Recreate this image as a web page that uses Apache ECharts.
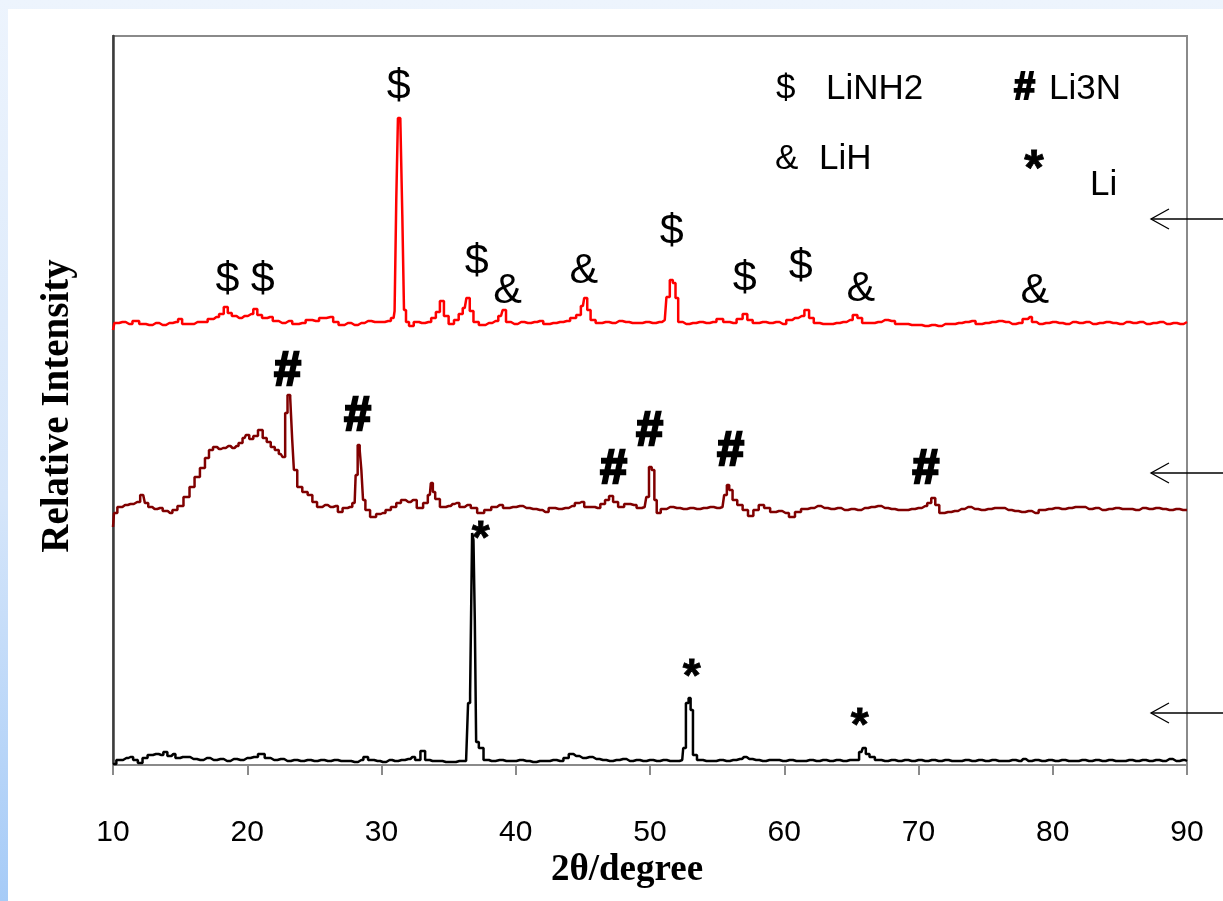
<!DOCTYPE html>
<html>
<head>
<meta charset="utf-8">
<script src="https://cdn.jsdelivr.net/npm/echarts@6/dist/echarts.min.js"></script>
<style>
  html, body { margin: 0; padding: 0; width: 1223px; height: 901px; overflow: hidden; }
  body { background: linear-gradient(to bottom, #edf4fd 0%, #d6e6fa 55%, #a6cbf7 100%); position: relative; }
  #sheet { position: absolute; left: 8px; top: 9px; right: 0; bottom: 0; background: #ffffff; }
  #chart { position: absolute; left: 0; top: 0; width: 1223px; height: 901px; }
</style>
</head>
<body>
<div id="sheet"></div>
<div id="chart"></div>
<script>
// XRD patterns, 2-theta (degree) vs. relative intensity (arbitrary units, stacked)
const xTicks = [10, 20, 30, 40, 50, 60, 70, 80, 90];

// Top pattern: LiNH2 + LiH
const patternTop = [
  [10.0,435],[10.2,442],[10.7,443],[11.2,441],[11.7,444],[12.2,441],[12.7,440],[13.2,442],[13.7,440],[14.2,442],
  [14.7,443],[15.0,446],[15.3,441],[15.8,441],[16.3,443],[16.8,443],[17.3,446],[17.7,448],[18.1,451],[18.4,458],
  [18.7,452],[19.0,449],[19.4,447],[19.8,449],[20.3,451],[20.6,456],[20.9,450],[21.3,447],[21.7,448],[22.1,444],
  [22.6,442],[23.1,444],[23.6,441],[24.1,442],[24.6,445],[25.1,444],[25.6,447],[26.2,448],[26.6,443],[27.0,440],
  [27.5,442],[28.0,440],[28.5,442],[29.0,444],[29.5,443],[30.0,443],[30.5,444],[30.9,447],[31.05,454],[31.15,565],
  [31.3,647],[31.5,647],[31.6,550],[31.75,455],[31.9,443],[32.2,439],[32.6,443],[33.0,442],[33.5,443],[33.9,447],
  [34.2,453],[34.5,464],[34.8,449],[35.2,441],[35.6,445],[35.9,451],[36.2,457],[36.45,467],[36.7,454],[37.0,443],
  [37.5,440],[38.0,442],[38.5,444],[38.9,449],[39.15,455],[39.4,443],[39.9,441],[40.4,443],[40.9,442],[41.4,443],
  [41.8,444],[42.3,441],[42.8,442],[43.3,443],[43.8,444],[44.3,447],[44.7,450],[45.0,459],[45.2,467],[45.45,455],
  [45.7,445],[46.2,442],[46.7,443],[47.2,442],[47.7,444],[48.2,443],[48.7,442],[49.2,442],[49.7,443],[50.2,442],
  [50.7,443],[51.1,445],[51.35,468],[51.6,485],[51.8,482],[52.0,467],[52.2,443],[52.7,441],[53.2,442],[53.7,443],
  [54.2,442],[54.7,443],[55.2,446],[55.7,443],[56.2,442],[56.7,446],[57.1,451],[57.4,445],[57.9,442],[58.4,443],
  [58.9,442],[59.4,443],[59.9,441],[60.4,445],[60.8,447],[61.3,449],[61.7,455],[62.0,447],[62.4,442],[62.9,441],
  [63.4,441],[63.9,442],[64.4,443],[64.9,445],[65.3,450],[65.6,447],[66.0,442],[66.5,442],[67.0,443],[67.5,445],
  [68.0,444],[68.5,441],[69.0,441],[69.5,440],[70.0,440],[70.5,439],[71.0,440],[71.5,439],[72.0,441],[72.5,441],
  [73.0,442],[73.5,443],[74.0,444],[74.5,441],[75.0,442],[75.5,443],[76.0,444],[76.5,443],[77.0,441],[77.5,442],
  [78.0,446],[78.3,448],[78.6,443],[79.0,441],[79.5,442],[80.0,443],[80.5,442],[81.0,441],[81.5,443],[82.0,442],
  [82.5,443],[83.0,441],[83.5,442],[84.0,443],[84.5,442],[85.0,441],[85.5,443],[86.0,442],[86.5,443],[87.0,441],
  [87.5,442],[88.0,443],[88.5,441],[89.0,442],[89.5,441],[90.0,443]
];

// Middle pattern: Li3N
const patternMiddle = [
  [10.0,238],[10.15,252],[10.5,258],[10.9,260],[11.3,261],[11.8,263],[12.25,270],[12.5,262],[12.75,258],[13.1,256],
  [13.5,257],[13.9,254],[14.25,252],[14.6,255],[15.0,259],[15.5,268],[15.9,278],[16.25,288],[16.7,297],[17.0,307],
  [17.3,315],[17.6,318],[17.9,316],[18.2,317],[18.6,319],[18.9,317],[19.2,319],[19.5,322],[19.8,327],[20.0,330],
  [20.3,326],[20.6,329],[21.0,335],[21.3,327],[21.6,323],[21.9,318],[22.2,315],[22.5,311],[22.75,308],[22.9,352],
  [23.1,370],[23.3,367],[23.4,325],[23.55,295],[23.9,278],[24.3,273],[24.7,270],[25.0,263],[25.4,258],[25.8,260],
  [26.2,258],[26.6,259],[26.9,253],[27.3,257],[27.65,258],[28.0,262],[28.15,290],[28.3,320],[28.45,315],[28.55,295],
  [28.7,265],[28.9,255],[29.4,248],[29.8,251],[30.1,252],[30.5,255],[30.9,258],[31.3,262],[31.6,265],[32.0,263],
  [32.35,265],[32.9,257],[33.3,262],[33.6,270],[33.75,282],[33.9,273],[34.1,266],[34.6,258],[35.0,259],[35.3,261],
  [35.6,262],[36.0,258],[36.4,260],[36.9,257],[37.35,252],[37.95,255],[38.4,258],[38.8,260],[39.3,257],[39.8,258],
  [40.3,259],[40.8,257],[41.3,256],[41.8,255],[42.2,253],[42.7,257],[43.2,256],[43.7,257],[44.2,259],[44.6,262],
  [44.9,263],[45.3,258],[45.7,258],[46.1,257],[46.5,261],[46.8,265],[47.1,269],[47.4,263],[47.85,258],[48.3,261],
  [48.8,260],[49.2,257],[49.6,258],[49.85,268],[50.0,298],[50.25,295],[50.4,265],[50.6,252],[51.0,256],[51.5,258],
  [52.0,257],[52.5,256],[53.0,257],[53.5,256],[54.0,257],[54.5,258],[55.0,257],[55.4,258],[55.65,270],[55.8,280],
  [56.0,275],[56.3,265],[56.7,260],[57.1,255],[57.5,249],[57.9,255],[58.3,260],[58.7,257],[59.2,253],[59.6,254],
  [60.1,252],[60.6,248],[61.0,253],[61.5,256],[62.0,257],[62.5,259],[63.0,257],[63.5,256],[64.0,257],[64.5,255],
  [65.0,256],[65.5,255],[66.0,257],[66.5,258],[67.0,259],[67.5,257],[68.0,256],[68.5,255],[69.0,255],[69.5,256],
  [70.0,257],[70.5,259],[70.8,262],[71.1,267],[71.4,260],[71.7,252],[72.2,253],[72.7,254],[73.2,256],[73.7,258],
  [74.2,256],[74.7,255],[75.2,256],[75.7,257],[76.2,257],[76.7,255],[77.2,254],[77.7,253],[78.2,254],[78.7,252],
  [79.2,255],[79.7,256],[80.2,257],[80.7,256],[81.2,257],[81.7,258],[82.2,258],[82.7,256],[83.2,257],[83.7,255],
  [84.2,256],[84.7,257],[85.2,256],[85.7,256],[86.2,255],[86.7,257],[87.2,256],[87.7,257],[88.2,256],[88.7,255],
  [89.2,256],[89.7,255],[90.0,255]
];

// Bottom pattern: Li
const patternBottom = [
  [10.0,1],[10.5,5],[11.0,7],[11.3,8],[11.7,5],[12.0,2],[12.4,7],[12.75,10],[13.2,11],[13.6,10],
  [13.9,13],[14.2,9],[14.5,11],[14.8,7],[15.2,8],[15.5,8],[16.0,6],[16.5,5],[17.0,7],[17.5,5],
  [18.0,6],[18.5,4],[19.0,6],[19.5,5],[20.0,7],[20.5,8],[21.1,11],[21.5,7],[22.0,5],[22.5,6],
  [23.0,4],[23.5,5],[24.0,4],[24.5,5],[25.0,4],[25.5,5],[26.0,4],[26.5,5],[27.0,4],[27.5,4],
  [28.0,3],[28.5,5],[28.8,8],[29.2,5],[29.7,4],[30.1,3],[30.6,5],[31.0,4],[31.5,5],[32.0,6],
  [32.3,8],[32.7,5],[33.1,14],[33.4,5],[33.8,4],[34.3,4],[34.8,3],[35.3,3],[35.8,4],[36.3,4],
  [36.4,4],[36.5,62],[36.7,72],[36.8,232],[36.9,225],[37.0,145],[37.1,23],[37.4,17],[37.8,5],[38.2,4],
  [38.8,5],[39.3,4],[39.8,4],[40.3,5],[40.8,4],[41.3,3],[41.8,4],[42.3,4],[42.8,5],[43.3,4],
  [43.8,7],[44.1,11],[44.5,9],[45.0,7],[45.5,8],[46.0,6],[46.5,5],[47.0,4],[47.5,5],[48.0,6],
  [48.5,4],[49.0,5],[49.5,4],[50.0,5],[50.5,4],[51.0,5],[51.5,4],[52.0,4],[52.4,5],[52.55,17],
  [52.8,62],[52.95,67],[53.1,55],[53.3,10],[53.7,5],[54.2,4],[54.7,4],[55.2,5],[55.7,4],[56.2,5],
  [56.7,6],[57.0,8],[57.4,6],[57.9,5],[58.4,4],[58.9,5],[59.4,5],[59.9,4],[60.4,5],[60.9,4],
  [61.4,4],[61.9,5],[62.4,4],[62.9,5],[63.4,4],[63.9,5],[64.4,4],[64.9,5],[65.4,5],[65.75,13],
  [65.95,17],[66.2,11],[66.5,8],[67.0,5],[67.5,4],[68.0,5],[68.5,4],[69.0,5],[69.5,4],[70.0,5],
  [70.5,4],[71.0,5],[71.5,4],[72.0,5],[72.5,4],[73.0,4],[73.5,5],[74.0,4],[74.5,5],[75.0,4],
  [75.5,5],[76.0,4],[76.5,4],[77.0,5],[77.5,4],[77.8,6],[78.2,4],[78.7,5],[79.2,4],[79.7,5],
  [80.2,4],[80.7,5],[81.2,4],[81.7,4],[82.2,5],[82.7,4],[83.2,5],[83.7,4],[84.2,5],[84.7,4],
  [85.2,4],[85.7,5],[86.2,4],[86.7,5],[87.2,4],[87.7,5],[88.2,4],[88.7,6],[89.2,4],[89.7,5],[90.0,4]
];

// Phase markers above the reflections: [2theta, height, symbol]
const marksTop = [
  [31.31, 677, '$'], [18.57, 484, '$'], [21.18, 484, '$'], [37.12, 502, '$'],
  [39.43, 473, '&'], [45.1, 493, '&'], [51.65, 532, '$'], [57.1, 485, '$'],
  [61.27, 497, '$'], [65.74, 475, '&'], [78.7, 473, '&']
];
const marksMiddle = [
  [23.04, 393, '#'], [28.26, 348, '#'], [47.33, 295, '#'],
  [50.0, 333, '#'], [56.05, 313, '#'], [70.58, 295, '#']
];
const marksBottom = [
  [37.42, 224, '*'], [53.15, 86, '*'], [65.66, 37, '*']
];

const SANS = 'Liberation Sans, Arial, sans-serif';
const SERIF = 'Liberation Serif, Times New Roman, serif';

function traceSeries(data, color) {
  return {
    type: 'line', data: data, step: 'middle', symbol: 'none', silent: true,
    lineStyle: { color: color, width: 2.5 }, clip: false, z: 3
  };
}
// heavy: extra outline stroke to thicken the glyph
function markSeries(data, size, bold, heavy) {
  return {
    type: 'scatter', data: data, symbolSize: 1, silent: true, z: 5,
    itemStyle: { color: 'rgba(0,0,0,0)' },
    label: {
      show: true, position: [0, 0], align: 'center', verticalAlign: 'middle',
      formatter: p => p.data[2], opacity: 1,
      color: '#000000', textBorderWidth: heavy || 0, textBorderColor: '#000000',
      fontFamily: SANS, fontSize: size, fontWeight: bold ? 'bold' : 'normal'
    }
  };
}

const chart = echarts.init(document.getElementById('chart'), null, { renderer: 'canvas' });

// legend key, axis titles and the pointer arrows at the right edge
const plainText = (x, y, text, font, align, rotation, heavy) => ({
  type: 'text', x: x, y: y, rotation: rotation || 0,
  style: { text: text, fill: '#000', font: font,
           stroke: heavy ? '#000' : null, lineWidth: heavy || 0,
           textVerticalAlign: 'middle', textAlign: align || 'left' }
});
const legendText = (x, y, text, bold, size, align, heavy) =>
  plainText(x, y, text, (bold ? 'bold ' : '') + (size || 35) + 'px ' + SANS, align, 0, heavy);
const arrow = y => ({
  type: 'group', children: [
    { type: 'line', shape: { x1: 1151, y1: y, x2: 1223, y2: y }, style: { stroke: '#000', lineWidth: 1.3 } },
    { type: 'polyline', shape: { points: [[1169, y - 10], [1151, y], [1169, y + 10]] },
      style: { stroke: '#000', lineWidth: 1.3, fill: null } }
  ]
});

chart.setOption({
  animation: false,
  backgroundColor: 'transparent',
  grid: { left: 113, right: 36, top: 36, bottom: 136, show: true, borderColor: '#8a8a8a', borderWidth: 2 },
  xAxis: {
    type: 'value', min: 10, max: 90, interval: 10,
    axisLine: { show: true, onZero: false, lineStyle: { color: '#8a8a8a', width: 2 } },
    axisTick: { show: true, length: 10, lineStyle: { color: '#8a8a8a', width: 2 } },
    axisLabel: { margin: 53, fontFamily: SANS, fontSize: 30, color: '#000',
                 formatter: v => (xTicks.indexOf(v) >= 0 ? String(v) : '') },
    splitLine: { show: false }
  },
  yAxis: {
    type: 'value', min: 0, max: 729,
    axisLine: { show: true, onZero: false, lineStyle: { color: '#3c3c3c', width: 2.5 } },
    axisTick: { show: false }, axisLabel: { show: false }, splitLine: { show: false }
  },
  series: [
    traceSeries(patternBottom, '#000000'),
    traceSeries(patternMiddle, '#800000'),
    traceSeries(patternTop, '#ff0000'),
    markSeries(marksTop, 43, false, 0),
    markSeries(marksMiddle, 48, true, 2.5),
    markSeries(marksBottom, 46, true, 0.8)
  ],
  graphic: [
    legendText(776, 89, '$'), legendText(826, 89, 'LiNH2'),
    legendText(1014, 89, '#', true, 38, 'left', 1.8), legendText(1049, 89, 'Li3N'),
    legendText(775, 159, '&'), legendText(819, 159, 'LiH'),
    legendText(1034, 171, '*', true, 50, 'center', 0.8), legendText(1090, 185, 'Li'),
    plainText(627, 870, '2\u03b8/degree', 'bold 37px ' + SERIF, 'center'),
    plainText(58, 406, 'Relative Intensity', 'bold 39px ' + SERIF, 'center', Math.PI / 2),
    arrow(219), arrow(473), arrow(713)
  ]
});
</script>
</body>
</html>
